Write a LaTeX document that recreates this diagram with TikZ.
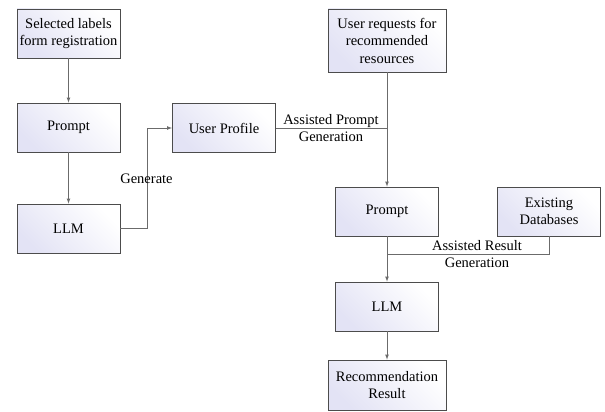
\documentclass[tikz,border=0pt]{standalone}
\usepackage{fontspec}
\setmainfont{Liberation Serif}
\definecolor{BoxShade}{rgb}{0.89,0.89,0.96}
\definecolor{BoxBorder}{rgb}{0.30,0.30,0.30}
\definecolor{WireColor}{rgb}{0.42,0.42,0.42}
\tikzstyle{flow-base}=[rectangle,
                       draw=BoxBorder,
                       line width=0.8pt,
                       align=center,
                       inner sep=1pt,
                       left color=BoxShade,
                       right color=white,
                       shading angle=135,
                       minimum height=49pt,
                      ]
\tikzstyle{flowbox}=[flow-base, minimum width=103pt]
\tikzstyle{widebox}=[flow-base, minimum width=118pt]
\tikzstyle{wire}=[draw=WireColor, line width=0.7pt]
\tikzstyle{wirelabel}=[align=center, inner sep=0pt]

\begin{document}
\begin{tikzpicture}[x=1pt, y=-1pt, font=\fontsize{14.5}{17.5}\selectfont]
\useasboundingbox (0,0) rectangle (605,412);

% left column
\node at (68.5,  33.5) (sel_labels)   [flowbox] {Selected labels\\form registration};
\node at (68.5, 127.5) (prompt_left)  [flowbox] {Prompt};
\node at (68.5, 228.5) (llm_left)     [flowbox] {LLM};
\node at (224,  128)   (user_profile) [flowbox] {User Profile};

% right column
\node at (387,  40.5)  (user_request) [widebox, minimum height=63pt] {User requests for\\recommended\\resources};
\node at (387, 211.5)  (prompt_right) [flowbox] {Prompt};
\node at (549, 211.5)  (exist_db)     [flowbox] {Existing\\Databases};
\node at (387, 306.5)  (llm_right)    [flowbox] {LLM};
\node at (387, 385)    (rec_result)   [widebox, minimum height=50pt] {Recommendation\\Result};

\coordinate (gen_turn)    at (147, 228.5);
\coordinate (result_join) at (387, 254);

\draw[wire, -latex] (sel_labels) -- (prompt_left);
\draw[wire, -latex] (prompt_left) -- (llm_left);
\draw[wire, -latex] (llm_left.east) -- (gen_turn) |- (user_profile.west);
\draw[wire] (user_profile.east) -- (user_profile.east -| user_request.south);
\draw[wire, -latex] (user_request) -- (prompt_right);
\draw[wire] (exist_db.south) |- (result_join);
\draw[wire, -latex] (prompt_right) -- (llm_right);
\draw[wire, -latex] (llm_right) -- (rec_result);

\node at (146.5, 179) (gen_label)    [wirelabel] {Generate};
\node at (331,   128) (prompt_label) [wirelabel] {Assisted Prompt\\Generation};
\node at (477,   254) (result_label) [wirelabel] {Assisted Result\\Generation};
\end{tikzpicture}
\end{document}
